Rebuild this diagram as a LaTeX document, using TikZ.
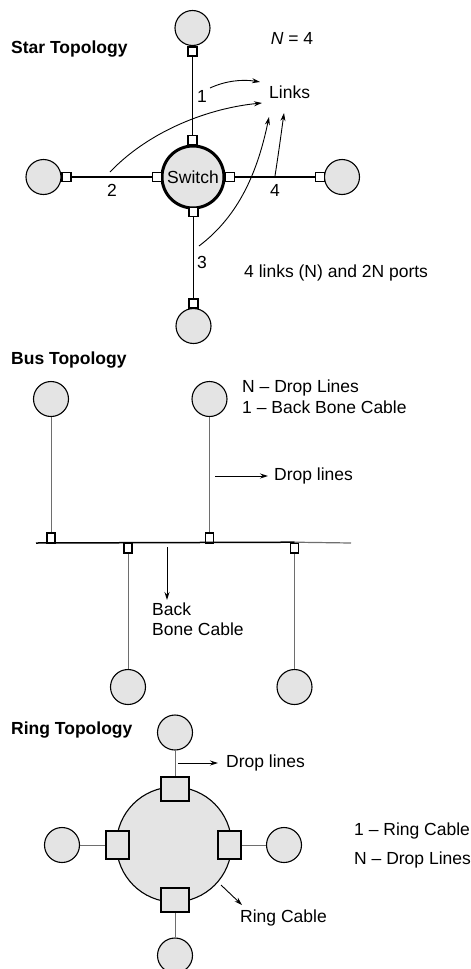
\documentclass[tikz,border=0pt]{standalone}
\usepackage{fontspec}
\setmainfont{Liberation Sans}
\usetikzlibrary{arrows.meta}
\definecolor{ngray}{RGB}{228,228,228}
\definecolor{lgray}{RGB}{110,110,110}
\begin{document}
\begin{tikzpicture}[x=1pt,y=-1pt,
 pc/.style={circle,draw,fill=ngray,minimum size=35,inner sep=0,line width=1.1},
 sport/.style={rectangle,draw,line width=1.8,fill=white,minimum size=9,inner sep=0},
 bport/.style={rectangle,draw,line width=1.6,fill=white,minimum width=8,minimum height=10,inner sep=0},
 rport/.style={rectangle,draw,line width=2.6,fill=ngray,inner sep=0},
 txt/.style={font=\fontsize{17.5}{20}\selectfont,inner sep=0},
 ttl/.style={font=\bfseries\fontsize{17.5}{20}\selectfont,inner sep=0,anchor=west},
 arr/.style={-{Stealth[length=8,width=5]},line width=0.9},
 starline/.style={line width=1.5},
 dropline/.style={lgray,line width=1}
]
\useasboundingbox (0,0) rectangle (471,969);
% ---------- Star ----------
\node[ttl] (st) at (11,49) {Star Topology};
\node[txt] (n4) at (292,38) {\textit{N} = 4};
\node[pc,minimum size=62,line width=3,font=\fontsize{17.5}{20}\selectfont] (sw) at (193,177) {Switch};
\node[sport] (swt) at (192.5,140) {};
\node[sport] (swl) at (157,177) {};
\node[sport] (swr) at (230,177) {};
\node[sport] (swb) at (193.5,212) {};
\node[pc] (nt) at (192.5,28) {};
\node[sport] (pt) at (192.5,51.5) {};
\node[pc] (nl) at (43.5,177) {};
\node[sport] (pl) at (66.5,177) {};
\node[pc] (nr) at (342,177) {};
\node[sport] (pr) at (320,177) {};
\node[pc] (nb) at (193.5,326) {};
\node[sport] (pb) at (193.5,303.5) {};
\draw[starline] (pt.south) -- (swt.north);
\draw[starline] (pl.east) -- (swl.west);
\draw[starline] (swr.east) -- (pr.west);
\draw[starline] (swb.south) -- (pb.north);
\node[txt] (l1) at (202,96) {1};
\node[txt] (l2) at (112,190) {2};
\node[txt] (l3) at (202,262) {3};
\node[txt] (l4) at (275,190) {4};
\node[txt,anchor=west] (links) at (269,92) {Links};
\node[txt,anchor=west] (ports) at (244,273) {4 links (N) and 2N ports};
\coordinate (a1s) at (210,88); \coordinate (a1e) at (260,82);
\coordinate (a2s) at (110,172); \coordinate (a2e) at (262,103);
\coordinate (a3s) at (199,246); \coordinate (a3e) at (269,117);
\coordinate (a4s) at (275,176); \coordinate (a4e) at (284,113);
\draw[arr] (a1s) .. controls (225,81) and (242,79) .. (a1e);
\draw[arr] (a2s) .. controls (150,130) and (210,108) .. (a2e);
\draw[arr] (a3s) .. controls (240,215) and (258,170) .. (a3e);
\draw[arr] (a4s) .. controls (279,150) and (281,135) .. (a4e);
% ---------- Bus ----------
\node[ttl] (bt) at (11,360) {Bus Topology};
\node[pc] (b1) at (51,399) {};
\node[pc] (b2) at (209.5,399) {};
\node[bport] (bp1) at (51,538) {};
\node[bport] (bp2) at (209.5,538) {};
\node[bport] (bp3) at (128,548) {};
\node[bport] (bp4) at (294.5,548) {};
\node[pc] (b3) at (128,687) {};
\node[pc] (b4) at (294.5,687) {};
\coordinate (busL) at (36,543); \coordinate (busR) at (351,543);
\draw[line width=1.5] (busL) -- (bp4.north);
\draw[lgray,line width=1.2] (bp4.north) -- (busR);
\draw[dropline] (b1) -- (bp1);
\draw[dropline] (b2) -- (bp2);
\draw[dropline] (bp3) -- (b3);
\draw[dropline] (bp4) -- (b4);
\node[txt,anchor=west] (bn1) at (242,388) {N – Drop Lines};
\node[txt,anchor=west] (bn2) at (242,407) {1 – Back Bone Cable};
\coordinate (dla) at (215,476);
\node[txt,anchor=west] (dl) at (274,476) {Drop lines};
\draw[arr] (dla) -- ([xshift=-6pt]dl.west);
\coordinate (bba) at (167,547); \coordinate (bbe) at (167,600);
\node[txt,anchor=north west,align=left] (bb) at (152,603) {Back\\Bone Cable};
\draw[arr] (bba) -- (bbe);
% ---------- Ring ----------
\node[ttl] (rt) at (11,730) {Ring Topology};
\node[circle,draw,fill=ngray,minimum size=115,line width=1.1,inner sep=0] (ring) at (174,844.5) {};
\node[rport,minimum width=28,minimum height=24] (rpt) at (175,789) {};
\node[rport,minimum width=23,minimum height=28] (rpl) at (117.5,845) {};
\node[rport,minimum width=23,minimum height=28] (rpr) at (229.5,845) {};
\node[rport,minimum width=28,minimum height=24] (rpb) at (175,900) {};
\node[pc] (rnt) at (175,732.5) {};
\node[pc] (rnl) at (62,845) {};
\node[pc] (rnr) at (284,845) {};
\node[pc] (rnb) at (175,955.5) {};
\draw[dropline] (rnt) -- (rpt);
\draw[dropline] (rnl) -- (rpl);
\draw[dropline] (rpr) -- (rnr);
\draw[dropline] (rpb) -- (rnb);
\coordinate (rda) at (178,763);
\node[txt,anchor=west] (rdl) at (226,763) {Drop lines};
\draw[arr] (rda) -- ([xshift=-8pt]rdl.west);
\coordinate (rca) at (221,885); \coordinate (rce) at (242,905);
\draw[arr] (rca) -- (rce);
\node[txt,anchor=west] (rcl) at (240,918) {Ring Cable};
\node[txt,anchor=west] (rk1) at (354,831) {1 – Ring Cable};
\node[txt,anchor=west] (rk2) at (354,860) {N – Drop Lines};
\end{tikzpicture}
\end{document}
